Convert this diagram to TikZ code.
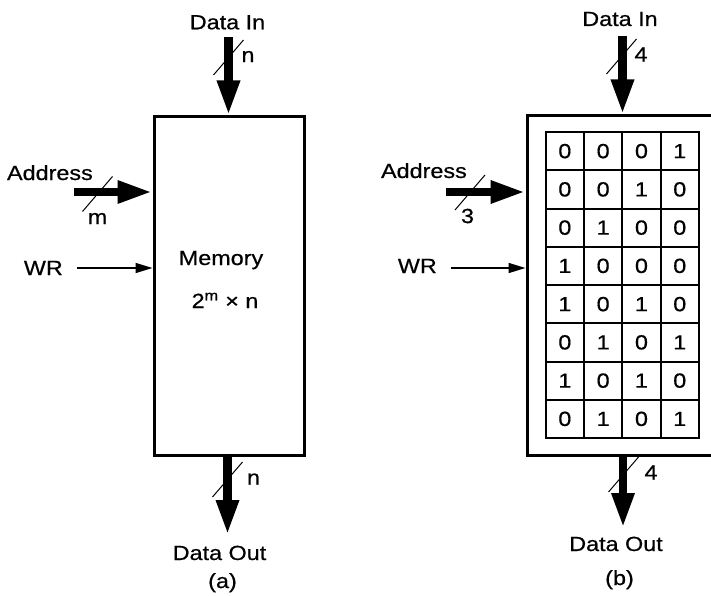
\documentclass[tikz,border=0pt]{standalone}
\usepackage{fontspec}
\setmainfont{Liberation Sans}[FakeStretch=1.14,FakeBold=0.6]
\usetikzlibrary{arrows.meta,calc}
\begin{document}
\begin{tikzpicture}[x=1pt,y=-1pt,
  lbl/.style={font=\fontsize{20.5}{24}\selectfont, inner sep=0pt},
  membox/.style={draw, line width=3pt, inner sep=0pt},
  cell/.style={draw, line width=2pt, minimum width=38.3pt, minimum height=38.25pt, inner sep=0pt, outer sep=0pt, font=\fontsize{20.5}{24}\selectfont},
  bus/.style={line width=8.5pt, -{Triangle[length=35pt,width=21pt]}},
  ctl/.style={line width=1.5pt, -{Triangle[length=17pt,width=10pt]}},
  slash/.style={line width=1pt},
]
\useasboundingbox (0,0) rectangle (711,596);
\clip (0,0) rectangle (711,596);

% ---------- (a) ----------
\node[membox, minimum width=150pt, minimum height=338pt] (A) at (229,286) {};
\node[lbl, anchor=base] (memT) at (221,265) {Memory};
\node[lbl, anchor=base] (sizeT) at (225,308) {2\textsuperscript{m} × n};

\node[lbl, anchor=base] (dinAT) at (227.5,29.3) {Data In};
\coordinate (dinA) at (228.5,37);
\draw[bus] (dinA) -- (dinA |- A.north);
\coordinate (sA1) at (228.5,57.5);
\draw[slash] ($(sA1)+(-15,17.5)$) -- ($(sA1)+(15,-17.5)$);
\node[lbl] (nA1) at (248,56.5) {n};

\node[lbl, anchor=base east] (adrAT) at (93,180) {Address};
\coordinate (adrA) at (74,192);
\draw[bus] (adrA) -- (adrA -| A.west);
\coordinate (sA2) at (97.5,194);
\draw[slash] ($(sA2)+(-15,17.5)$) -- ($(sA2)+(15,-17.5)$);
\node[lbl] (mA) at (97.5,218.5) {m};

\node[lbl, anchor=base east] (wrAT) at (63,275) {WR};
\coordinate (wrA) at (77,268);
\draw[ctl] (wrA) -- (wrA -| A.west);

\coordinate (doutA) at (227.5,535);
\draw[bus] (doutA |- A.south) -- (doutA);
\coordinate (sA3) at (227.5,479.5);
\draw[slash] ($(sA3)+(-15,17.5)$) -- ($(sA3)+(15,-17.5)$);
\node[lbl] (nA2) at (253.5,479) {n};
\node[lbl, anchor=base] (doutAT) at (219.5,560) {Data Out};
\node[lbl, anchor=base] (capA) at (222.5,588) {(a)};

% ---------- (b) ----------
\node[membox, minimum width=187pt, minimum height=339pt] (B) at (620.5,285.5) {};
\foreach \row [count=\j from 0] in {{0,0,0,1},{0,0,1,0},{0,1,0,0},{1,0,0,0},{1,0,1,0},{0,1,0,1},{1,0,1,0},{0,1,0,1}}{
  \foreach \v [count=\i from 0] in \row {
    \node[cell] (c-\j-\i) at ({545.7+38.3*(\i+0.5)},{132+38.25*(\j+0.5)}) {\v};
  }
}

\node[lbl, anchor=base] (dinBT) at (620,26) {Data In};
\coordinate (dinB) at (622.5,36);
\draw[bus] (dinB) -- (dinB |- B.north);
\coordinate (sB1) at (621.5,56.5);
\draw[slash] ($(sB1)+(-15,17.5)$) -- ($(sB1)+(15,-17.5)$);
\node[lbl] (fourB1) at (641,54.5) {4};

\node[lbl, anchor=base east] (adrBT) at (467,178) {Address};
\coordinate (adrB) at (446,192);
\draw[bus] (adrB) -- (adrB -| B.west);
\coordinate (sB2) at (470,192.5);
\draw[slash] ($(sB2)+(-15,17.5)$) -- ($(sB2)+(15,-17.5)$);
\node[lbl] (threeB) at (467.5,216) {3};

\node[lbl, anchor=base east] (wrBT) at (437,273) {WR};
\coordinate (wrB) at (451,268);
\draw[ctl] (wrB) -- (wrB -| B.west);

\coordinate (doutB) at (623,528);
\draw[bus] (doutB |- B.south) -- (doutB);
\coordinate (sB3) at (623.5,474.5);
\draw[slash] ($(sB3)+(-15,17.5)$) -- ($(sB3)+(15,-17.5)$);
\node[lbl] (fourB2) at (651,472.5) {4};
\node[lbl, anchor=base] (doutBT) at (616,551) {Data Out};
\node[lbl, anchor=base] (capB) at (619.5,585) {(b)};
\end{tikzpicture}
\end{document}
